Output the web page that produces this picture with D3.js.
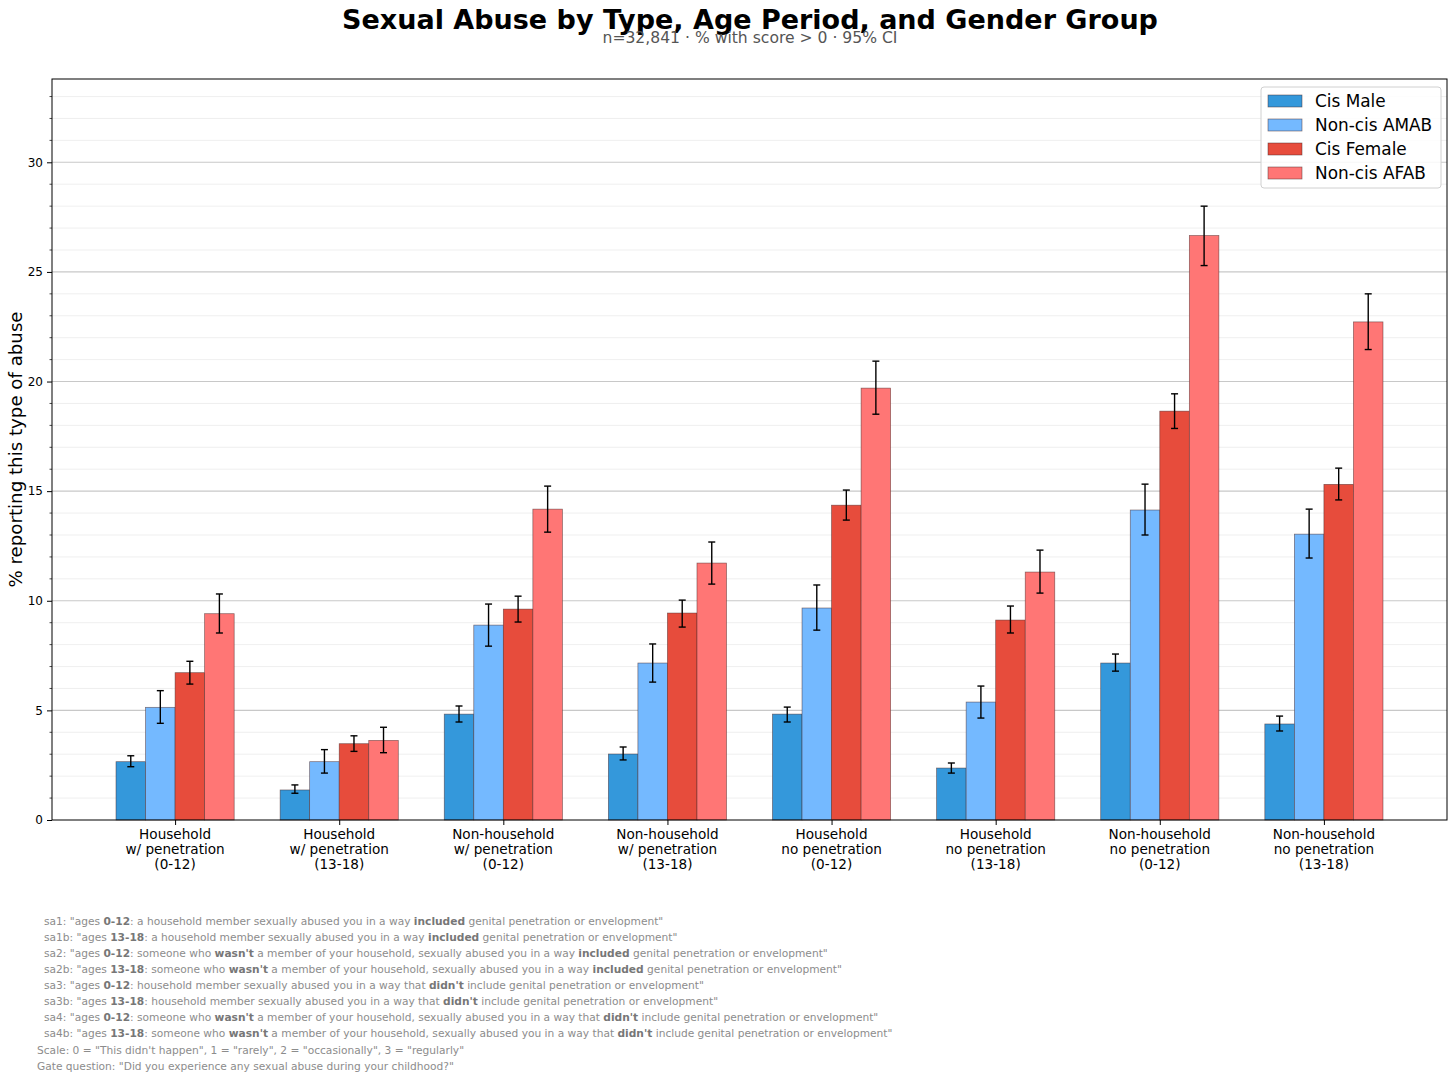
<!DOCTYPE html>
<html><head><meta charset="utf-8">
<script src="https://cdn.jsdelivr.net/npm/d3@7"></script>
<style>body{margin:0;background:#fff;font-family:"DejaVu Sans",sans-serif;}</style>
</head><body>
<svg id="c" width="1456" height="1084"></svg>
<script>
const categories = [
  ["Household","w/ penetration","(0-12)"],
  ["Household","w/ penetration","(13-18)"],
  ["Non-household","w/ penetration","(0-12)"],
  ["Non-household","w/ penetration","(13-18)"],
  ["Household","no penetration","(0-12)"],
  ["Household","no penetration","(13-18)"],
  ["Non-household","no penetration","(0-12)"],
  ["Non-household","no penetration","(13-18)"]
];
const groups = ["Cis Male","Non-cis AMAB","Cis Female","Non-cis AFAB"];
const colors = ["#3498db","#74b9ff","#e74c3c","#ff7675"];
const cisMale     = [2.66,1.37,4.83,3.01,4.83,2.37,7.16,4.38];
const cisMaleLo   = [2.43,1.22,4.47,2.74,4.47,2.14,6.79,4.06];
const cisMaleHi   = [2.93,1.60,5.20,3.33,5.15,2.60,7.57,4.74];
const noncisAMAB   = [5.14,2.66,8.89,7.16,9.67,5.38,14.14,13.04];
const noncisAMABLo = [4.41,2.14,7.93,6.29,8.66,4.65,13.00,11.95];
const noncisAMABHi = [5.90,3.21,9.85,8.03,10.72,6.11,15.32,14.18];
const cisFemale    = [6.72,3.48,9.62,9.44,14.36,9.12,18.65,15.31];
const cisFemaleLo  = [6.20,3.13,9.03,8.80,13.68,8.53,17.86,14.60];
const cisFemaleHi  = [7.24,3.84,10.21,10.03,15.05,9.76,19.44,16.05];
const noncisAFAB   = [9.41,3.63,14.18,11.72,19.70,11.31,26.66,22.72];
const noncisAFABLo = [8.53,3.07,13.13,10.76,18.51,10.35,25.29,21.46];
const noncisAFABHi = [10.31,4.23,15.23,12.68,20.93,12.31,28.00,24.00];
const yTicks = [0,5,10,15,20,25,30];
const title = "Sexual Abuse by Type, Age Period, and Gender Group";
const subtitle = "n=32,841 · % with score > 0 · 95% CI";
const yLabel = "% reporting this type of abuse";
const notes = [
  'sa1: "ages **0-12**: a household member sexually abused you in a way **included** genital penetration or envelopment"',
  'sa1b: "ages **13-18**: a household member sexually abused you in a way **included** genital penetration or envelopment"',
  'sa2: "ages **0-12**: someone who **wasn\'t** a member of your household, sexually abused you in a way **included** genital penetration or envelopment"',
  'sa2b: "ages **13-18**: someone who **wasn\'t** a member of your household, sexually abused you in a way **included** genital penetration or envelopment"',
  'sa3: "ages **0-12**: household member sexually abused you in a way that **didn\'t** include genital penetration or envelopment"',
  'sa3b: "ages **13-18**: household member sexually abused you in a way that **didn\'t** include genital penetration or envelopment"',
  'sa4: "ages **0-12**: someone who **wasn\'t** a member of your household, sexually abused you in a way that **didn\'t** include genital penetration or envelopment"',
  'sa4b: "ages **13-18**: someone who **wasn\'t** a member of your household, sexually abused you in a way that **didn\'t** include genital penetration or envelopment"'
];
const notes2 = [
  'Scale: 0 = "This didn\'t happen", 1 = "rarely", 2 = "occasionally", 3 = "regularly"',
  'Gate question: "Did you experience any sexual abuse during your childhood?"'
];

const series = [
  {v:cisMale, lo:cisMaleLo, hi:cisMaleHi},
  {v:noncisAMAB, lo:noncisAMABLo, hi:noncisAMABHi},
  {v:cisFemale, lo:cisFemaleLo, hi:cisFemaleHi},
  {v:noncisAFAB, lo:noncisAFABLo, hi:noncisAFABHi}
];

const svg = d3.select("#c");
const L=52, R=1447, T=79, B=820;
const x = d3.scaleLinear().domain([-0.75, 7.75]).range([L,R]);
const y = d3.scaleLinear().domain([0, 33.8]).range([B,T]);
const bw = 0.18;

// grid
const g = svg.append("g");
g.selectAll("line.minor").data(d3.range(1,34).filter(d=>d%5!==0)).join("line")
  .attr("x1",L).attr("x2",R).attr("y1",d=>y(d)).attr("y2",d=>y(d))
  .attr("stroke","#ebebeb").attr("stroke-width",0.8);
g.selectAll("line.major").data(yTicks.filter(d=>d>0)).join("line")
  .attr("x1",L).attr("x2",R).attr("y1",d=>y(d)).attr("y2",d=>y(d))
  .attr("stroke","#c8c8c8").attr("stroke-width",1.1);

// bars
series.forEach((s,si)=>{
  const off = (si-1.5)*bw;
  const gg = svg.append("g");
  gg.selectAll("rect").data(s.v).join("rect")
    .attr("x",(d,i)=>x(i+off-bw/2)).attr("width",x(bw)-x(0))
    .attr("y",d=>y(d)).attr("height",d=>y(0)-y(d))
    .attr("fill",colors[si]).attr("stroke","#4a2a2a").attr("stroke-opacity",0.65).attr("stroke-width",0.7);
  const eg = svg.append("g").attr("stroke","#000").attr("stroke-width",1.4);
  s.v.forEach((d,i)=>{
    const cx = x(i+off);
    eg.append("line").attr("x1",cx).attr("x2",cx).attr("y1",y(s.lo[i])).attr("y2",y(s.hi[i]));
    eg.append("line").attr("x1",cx-3.5).attr("x2",cx+3.5).attr("y1",y(s.lo[i])).attr("y2",y(s.lo[i]));
    eg.append("line").attr("x1",cx-3.5).attr("x2",cx+3.5).attr("y1",y(s.hi[i])).attr("y2",y(s.hi[i]));
  });
});

// frame
svg.append("rect").attr("x",L).attr("y",T).attr("width",R-L).attr("height",B-T)
  .attr("fill","none").attr("stroke","#000").attr("stroke-width",1);

// y axis
const ya = svg.append("g").attr("transform",`translate(${L},0)`)
  .call(d3.axisLeft(y).tickValues(yTicks).tickSize(5).tickPadding(4).tickFormat(d3.format("d")));
ya.select(".domain").remove();
ya.selectAll("text").attr("font-family","DejaVu Sans").attr("font-size",12).attr("fill","#000");
svg.append("g").selectAll("line").data(d3.range(1,34).filter(d=>d%5!==0)).join("line")
  .attr("x1",L-2.5).attr("x2",L).attr("y1",d=>y(d)).attr("y2",d=>y(d)).attr("stroke","#000").attr("stroke-width",0.7);

// x axis
const xa = svg.append("g").attr("transform",`translate(0,${B})`)
  .call(d3.axisBottom(x).tickValues(d3.range(8)).tickSize(5).tickFormat(""));
xa.select(".domain").remove();
categories.forEach((c,i)=>{
  const t = svg.append("text").attr("x",x(i)).attr("y",B+19).attr("text-anchor","middle")
    .attr("font-family","DejaVu Sans").attr("font-size",13.6).attr("fill","#000");
  c.forEach((line,k)=>t.append("tspan").attr("x",x(i)).attr("dy",k===0?0:15.2).text(line));
});

// y label
svg.append("text").attr("transform",`translate(22,${(T+B)/2}) rotate(-90)`).attr("text-anchor","middle")
  .attr("font-family","DejaVu Sans").attr("font-size",18.2).text(yLabel);

// titles
svg.append("text").attr("x",750).attr("y",29).attr("text-anchor","middle")
  .attr("font-family","DejaVu Sans").attr("font-weight","bold").attr("font-size",27).text(title);
svg.append("text").attr("x",750).attr("y",43).attr("text-anchor","middle")
  .attr("font-family","DejaVu Sans").attr("font-size",15.6).attr("fill","#555").text(subtitle);

// legend
const lg = svg.append("g").attr("transform","translate(1261,87)");
lg.append("rect").attr("width",180).attr("height",101).attr("rx",3).attr("fill","#fff").attr("fill-opacity",0.85)
  .attr("stroke","#d0d0d0");
groups.forEach((gname,i)=>{
  lg.append("rect").attr("x",7).attr("y",8+i*24).attr("width",34).attr("height",12)
    .attr("fill",colors[i]).attr("stroke","#4a2a2a").attr("stroke-opacity",0.65).attr("stroke-width",0.7);
  lg.append("text").attr("x",54).attr("y",20+i*24).attr("font-family","DejaVu Sans").attr("font-size",16.9).text(gname);
});

// footnotes
function richText(sel, str){
  str.split("**").forEach((part,k)=>{
    sel.append("tspan").attr("font-weight",k%2?"bold":"normal").attr("fill",k%2?"#777":"#8c8c8c").text(part);
  });
}
notes.forEach((n,i)=>{
  const t = svg.append("text").attr("x",44).attr("y",925+i*16).attr("font-family","DejaVu Sans").attr("font-size",10.65);
  richText(t,n);
});
notes2.forEach((n,i)=>{
  const t = svg.append("text").attr("x",37).attr("y",1054+i*16).attr("font-family","DejaVu Sans").attr("font-size",10.65);
  richText(t,n);
});
</script>
</body></html>
